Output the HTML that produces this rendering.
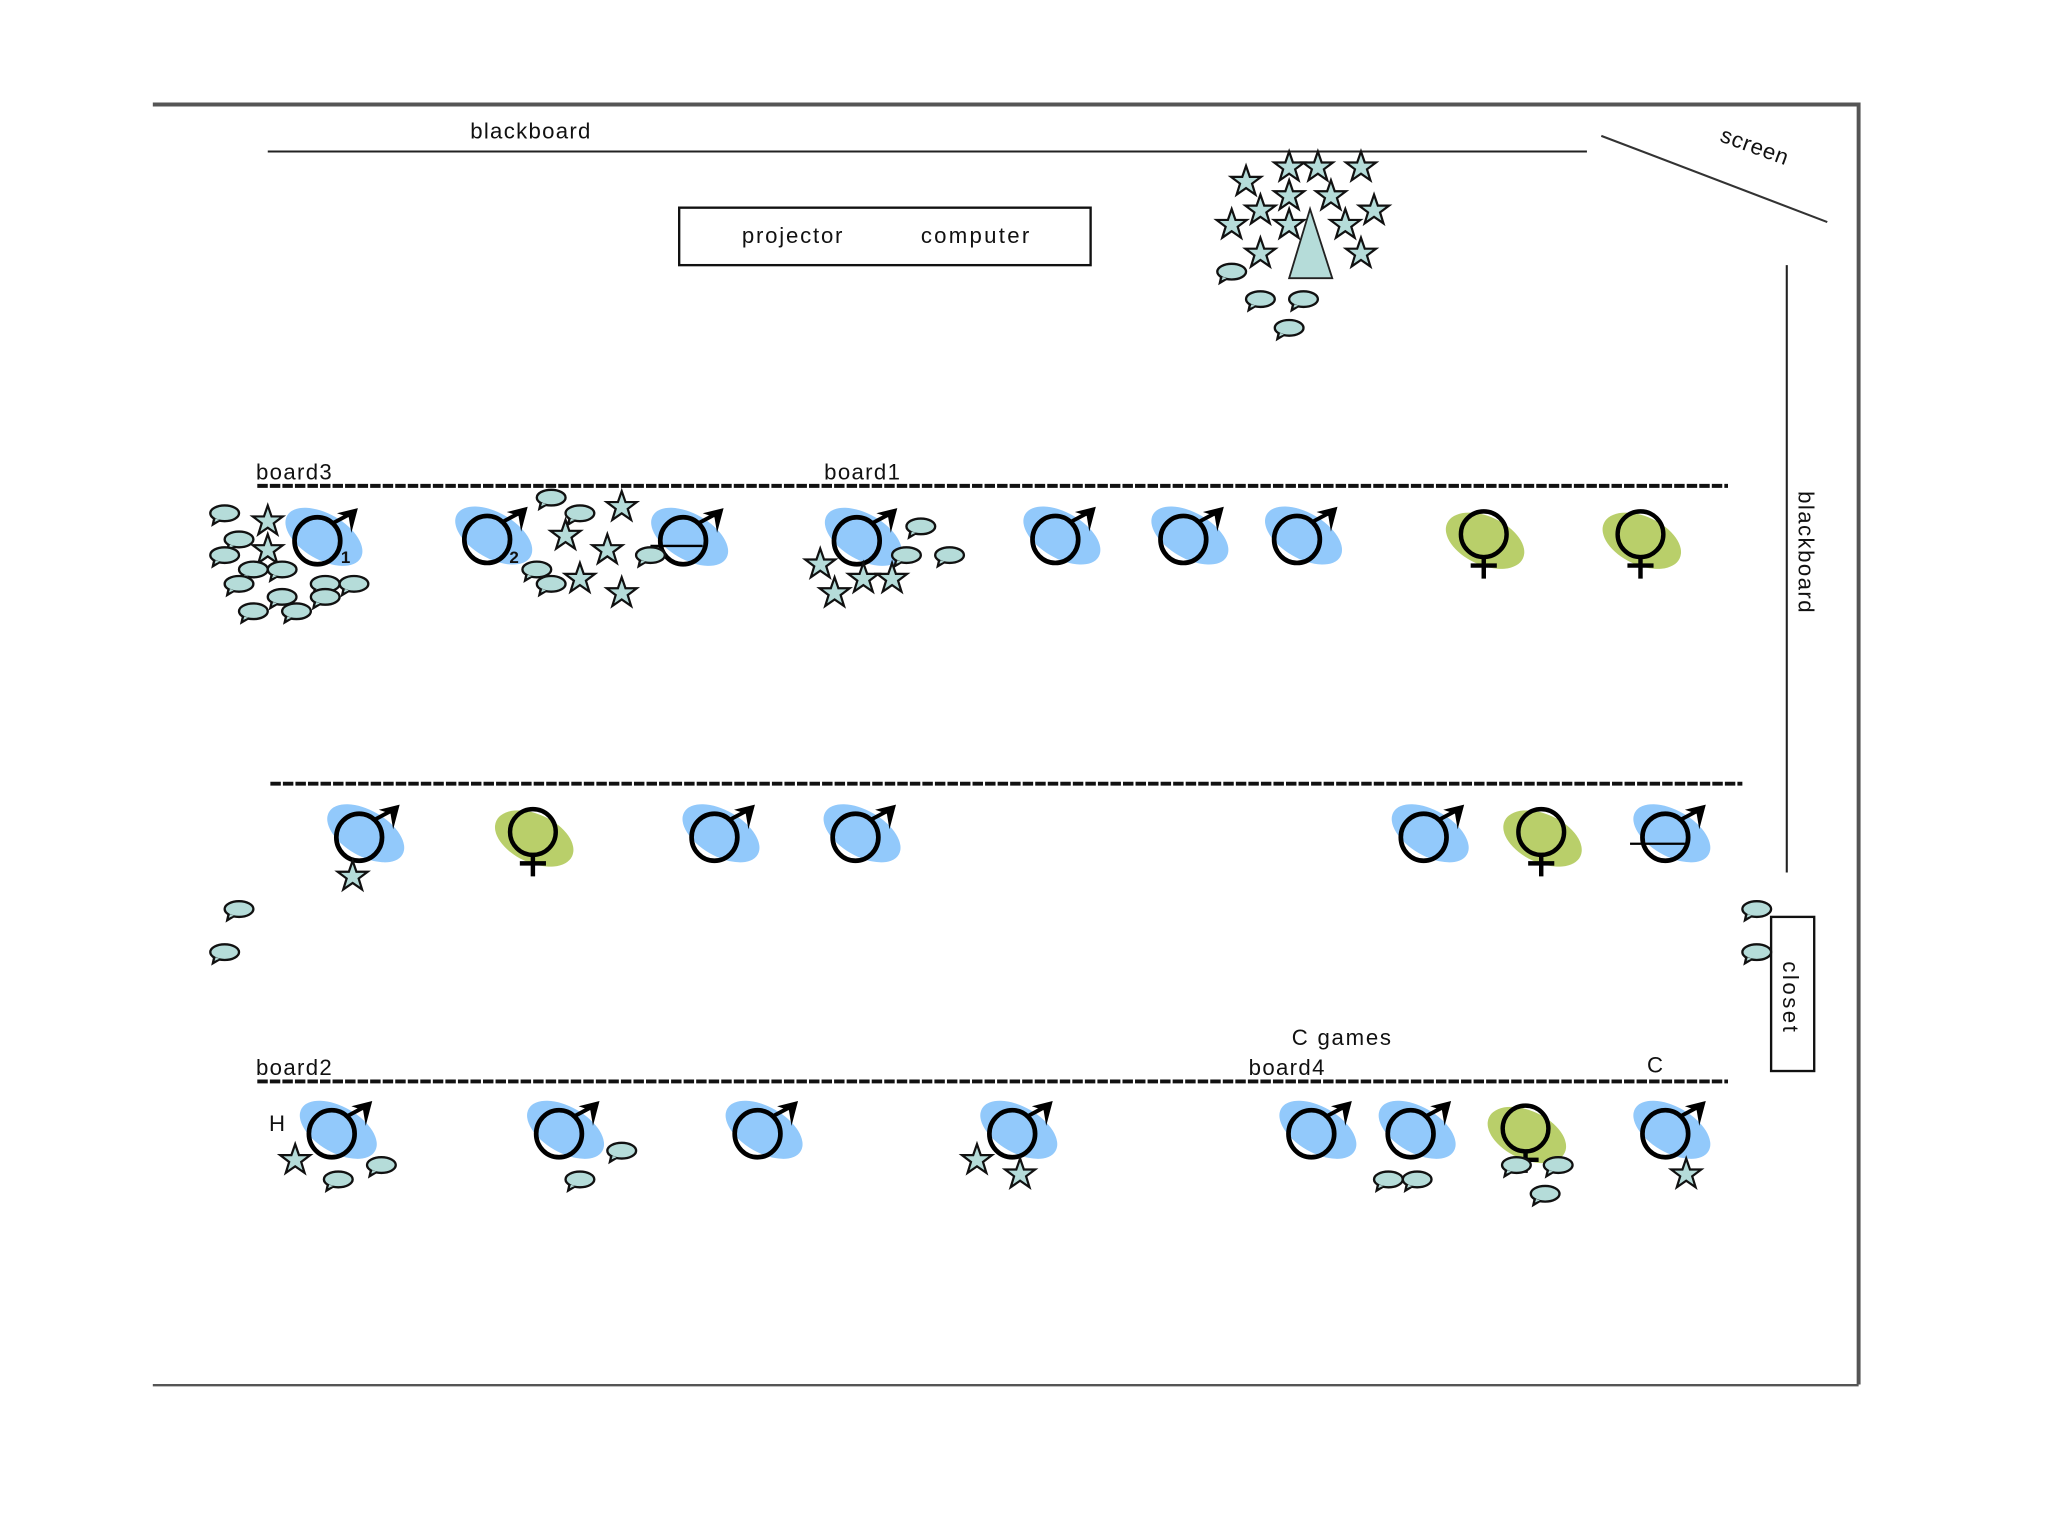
<!DOCTYPE html>
<html>
<head>
<meta charset="utf-8">
<style>
html,body{margin:0;padding:0;background:#fff;width:2048px;height:1536px;overflow:hidden}
svg{display:block}
text{font-family:"Liberation Sans",sans-serif;font-size:17px;fill:#111}
</style>
</head>
<body>
<svg xmlns="http://www.w3.org/2000/svg" width="2048" height="1536" viewBox="0 0 1568 1176">
<defs>
<g id="m">
<ellipse cx="7" cy="-3" rx="32.5" ry="17.5" transform="rotate(30 7 -3)" fill="#92c9fb"/>
<ellipse cx="2" cy="0" rx="17.5" ry="18" fill="none" stroke="#000" stroke-width="3.6"/>
<line x1="13" y1="-13" x2="28" y2="-21" stroke="#000" stroke-width="3"/>
<path d="M33,-25 L17,-21 L26,-18 L28,-6 Z" fill="#000"/>
</g>
<g id="f">
<ellipse cx="1" cy="5" rx="32" ry="18.5" transform="rotate(25 1 5)" fill="#b9cf6a"/>
<circle cx="0" cy="0" r="17.5" fill="none" stroke="#000" stroke-width="3.4"/>
<path d="M0,18 V34 M-10,24 H10" fill="none" stroke="#000" stroke-width="3.4"/>
</g>
<polygon id="s" points="0,-11 2.9,-2.6 11.5,-2.6 4.6,2.6 7.2,11 0,6 -7.2,11 -4.6,2.6 -11.5,-2.6 -2.9,-2.6" fill="#b5dcd9" stroke="#111" stroke-width="1.7" stroke-linejoin="miter"/>
<g id="b">
<path d="M-8,4 L-9,8.5 L-4,5.5" fill="#b5dcd9" stroke="#111" stroke-width="1.8"/>
<ellipse cx="0" cy="0" rx="11" ry="6" fill="#b5dcd9" stroke="#111" stroke-width="1.8"/>
<path d="M-7,4 L-7.5,6.5 L-4,5" fill="#b5dcd9"/>
</g>
</defs>
<rect width="1568" height="1176" fill="#fff"/>

<!-- frame -->
<path d="M117,80 H1423 V1060" fill="none" stroke="#555" stroke-width="3"/>
<line x1="117" y1="1060.5" x2="1423" y2="1060.5" stroke="#555" stroke-width="1.8"/>

<!-- walls -->
<line x1="205" y1="116" x2="1215" y2="116" stroke="#222" stroke-width="1.6"/>
<line x1="1226" y1="104" x2="1399" y2="170" stroke="#333" stroke-width="1.6"/>
<line x1="1368" y1="203" x2="1368" y2="668" stroke="#222" stroke-width="1.6"/>
<rect x="520" y="159" width="315" height="44" fill="#fff" stroke="#111" stroke-width="1.8"/>
<rect x="1356" y="702" width="33" height="118" fill="#fff" stroke="#111" stroke-width="1.8"/>
<polygon points="1003,160 987,213 1020,213" fill="#b5dcd9" stroke="#222" stroke-width="1.4"/>

<!-- dashed boards -->
<g stroke="#111" stroke-width="3" stroke-dasharray="8 1.6" fill="none">
<line x1="197" y1="372" x2="1323" y2="372"/>
<line x1="207" y1="600" x2="1334" y2="600"/>
<line x1="197" y1="828" x2="1323" y2="828"/>
</g>

<!-- males -->
<use href="#m" x="241" y="414"/><use href="#m" x="371" y="413"/><use href="#m" x="521" y="414"/><use href="#m" x="654" y="414"/><use href="#m" x="806" y="413"/><use href="#m" x="904" y="413"/><use href="#m" x="991" y="413"/>
<use href="#m" x="273" y="641"/><use href="#m" x="545" y="641"/><use href="#m" x="653" y="641"/><use href="#m" x="1088" y="641"/><use href="#m" x="1273" y="641"/>
<use href="#m" x="252" y="868"/><use href="#m" x="426" y="868"/><use href="#m" x="578" y="868"/><use href="#m" x="773" y="868"/><use href="#m" x="1002" y="868"/><use href="#m" x="1078" y="868"/><use href="#m" x="1273" y="868"/>

<!-- females -->
<use href="#f" x="1136" y="409"/><use href="#f" x="1256" y="409"/><use href="#f" x="408" y="637"/><use href="#f" x="1180" y="637"/><use href="#f" x="1168" y="864"/>

<!-- strike lines -->
<line x1="498" y1="418" x2="538" y2="418" stroke="#000" stroke-width="1.8"/>
<line x1="1248" y1="646" x2="1290" y2="646" stroke="#000" stroke-width="1.8"/>

<!-- stars -->
<use href="#s" x="987" y="127"/><use href="#s" x="1009" y="127"/><use href="#s" x="1042" y="127"/><use href="#s" x="954" y="138"/><use href="#s" x="987" y="149"/><use href="#s" x="1019" y="149"/><use href="#s" x="965" y="160"/><use href="#s" x="1052" y="160"/><use href="#s" x="943" y="171"/><use href="#s" x="987" y="171"/><use href="#s" x="1030" y="171"/><use href="#s" x="965" y="193"/><use href="#s" x="1042" y="193"/>
<use href="#s" x="205" y="398"/><use href="#s" x="205" y="420"/><use href="#s" x="476" y="387"/><use href="#s" x="433" y="409"/><use href="#s" x="465" y="420"/><use href="#s" x="444" y="442"/><use href="#s" x="476" y="453"/><use href="#s" x="628" y="431"/><use href="#s" x="661" y="442"/><use href="#s" x="683" y="442"/><use href="#s" x="639" y="453"/>
<use href="#s" x="270" y="670"/>
<use href="#s" x="226" y="887"/><use href="#s" x="748" y="887"/><use href="#s" x="781" y="898"/><use href="#s" x="1291" y="898"/>

<!-- bubbles -->
<use href="#b" x="943" y="208"/><use href="#b" x="965" y="229"/><use href="#b" x="998" y="229"/><use href="#b" x="987" y="251"/>
<use href="#b" x="172" y="393"/><use href="#b" x="183" y="413"/><use href="#b" x="172" y="425"/><use href="#b" x="194" y="436"/><use href="#b" x="216" y="436"/><use href="#b" x="183" y="447"/><use href="#b" x="249" y="447"/><use href="#b" x="271" y="447"/><use href="#b" x="216" y="457"/><use href="#b" x="249" y="457"/><use href="#b" x="194" y="468"/><use href="#b" x="227" y="468"/>
<use href="#b" x="422" y="381"/><use href="#b" x="444" y="393"/><use href="#b" x="411" y="436"/><use href="#b" x="422" y="447"/><use href="#b" x="498" y="425"/><use href="#b" x="705" y="403"/><use href="#b" x="694" y="425"/><use href="#b" x="727" y="425"/>
<use href="#b" x="183" y="696"/><use href="#b" x="172" y="729"/><use href="#b" x="1345" y="696"/><use href="#b" x="1345" y="729"/>
<use href="#b" x="259" y="903"/><use href="#b" x="292" y="892"/><use href="#b" x="476" y="881"/><use href="#b" x="444" y="903"/><use href="#b" x="1063" y="903"/><use href="#b" x="1085" y="903"/><use href="#b" x="1161" y="892"/><use href="#b" x="1193" y="892"/><use href="#b" x="1183" y="914"/>

<!-- labels -->
<text x="360" y="106" textLength="92">blackboard</text>
<text x="568" y="186" textLength="77">projector</text>
<text x="705" y="186" textLength="83">computer</text>
<text x="196" y="367" textLength="58">board3</text>
<text x="631" y="367" textLength="58">board1</text>
<text x="196" y="823" textLength="58">board2</text>
<text x="956" y="823" textLength="58">board4</text>
<text x="989" y="800" textLength="76">C games</text>
<text x="1261" y="821">C</text>
<text x="206" y="866">H</text>
<text x="261" y="431" style="font-size:13px;font-weight:bold">1</text>
<text x="390" y="431" style="font-size:13px;font-weight:bold">2</text>
<text transform="translate(1316,108) rotate(20)" textLength="54">screen</text>
<text transform="translate(1377,376) rotate(90)" textLength="93">blackboard</text>
<text transform="translate(1365,736) rotate(90)" textLength="54">closet</text>
</svg>
</body>
</html>
